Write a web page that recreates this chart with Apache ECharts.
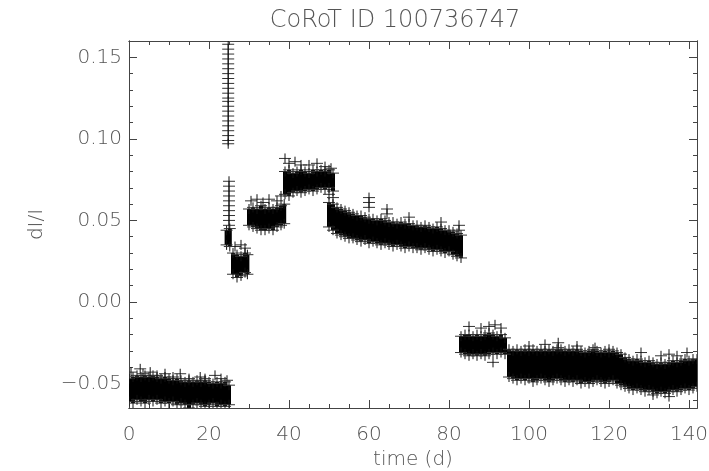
<!DOCTYPE html>
<html>
<head>
<meta charset="utf-8">
<title>CoRoT ID 100736747</title>
<script src="https://cdn.jsdelivr.net/npm/echarts@6.0.0/dist/echarts.min.js"></script>
<style>
  html, body { margin: 0; padding: 0; background: #fff; }
  #chart { width: 709px; height: 471px; }
</style>
</head>
<body>
<div id="chart"></div>
<script>
// light curve: one column per day, core band top/bottom
const bandT = [
  0, 1, 2, 3, 4, 5, 6, 7, 8, 9, 10, 11, 12, 13, 14, 15, 16, 17, 18, 19, 20, 21, 22, 23, 24, 25,
  24.4, 25.2,
  26, 27, 28, 29, 29.6,
  30, 31, 32, 33, 34, 35, 36, 37, 38, 38.8,
  39, 40, 41, 42, 43, 44, 45, 46, 47, 48, 49, 50, 51,
  50, 51, 52, 53, 54, 55, 56, 57, 58, 59, 60, 61, 62, 63, 64, 65, 66, 67, 68, 69, 70, 71, 72, 73, 74, 75, 76, 77, 78, 79, 80, 81, 82, 83,
  83, 84, 85, 86, 87, 88, 89, 90, 91, 92, 93, 94,
  95, 96, 97, 98, 99, 100, 101, 102, 103, 104, 105, 106, 107, 108, 109, 110, 111, 112, 113, 114, 115, 116, 117, 118,
  119, 120, 121, 122, 123, 124, 125, 126, 127, 128, 129, 130, 131, 132, 133, 134, 135, 136, 137, 138, 139, 140, 141, 142
]
const bandHi = [
  -0.047, -0.046, -0.045, -0.046, -0.045, -0.046, -0.045, -0.046, -0.047, -0.046, -0.047, -0.048, -0.047,
  -0.048, -0.049, -0.048, -0.049, -0.048, -0.049, -0.048, -0.049, -0.050, -0.049, -0.050, -0.049, -0.051,
  0.044, 0.045,
  0.030, 0.029, 0.028, 0.030, 0.029,
  0.057, 0.058, 0.057, 0.059, 0.057, 0.058, 0.057, 0.058, 0.059, 0.060,
  0.080, 0.081, 0.079, 0.080, 0.081, 0.080, 0.079, 0.081, 0.080, 0.081, 0.080, 0.081, 0.079,
  0.061, 0.060, 0.058, 0.057, 0.056, 0.055, 0.054, 0.053, 0.053, 0.052, 0.051, 0.051, 0.050, 0.051, 0.050, 0.049, 0.049,
  0.048, 0.049, 0.048, 0.048, 0.047, 0.047, 0.046, 0.047, 0.046, 0.045, 0.046, 0.045, 0.044, 0.044, 0.043, 0.042, 0.041,
  -0.021, -0.020, -0.020, -0.021, -0.020, -0.021, -0.020, -0.019, -0.020, -0.021, -0.020, -0.022,
  -0.029, -0.030, -0.029, -0.030, -0.029, -0.030, -0.029, -0.030, -0.029, -0.030, -0.029, -0.030, -0.029, -0.029,
  -0.030, -0.029, -0.030, -0.029, -0.030, -0.031, -0.030, -0.029, -0.030, -0.031, -0.030, -0.031, -0.030, -0.031,
  -0.032, -0.034, -0.035, -0.036, -0.035, -0.036, -0.037, -0.036, -0.037, -0.038, -0.037, -0.038, -0.037, -0.036,
  -0.037, -0.036, -0.035, -0.036, -0.035, -0.035
]
const bandLo = [
  -0.061, -0.062, -0.060, -0.061, -0.062, -0.060, -0.061, -0.060, -0.062, -0.061, -0.062, -0.061, -0.063,
  -0.062, -0.063, -0.065, -0.063, -0.062, -0.063, -0.064, -0.063, -0.062, -0.064, -0.063, -0.064, -0.063,
  0.035, 0.034,
  0.017, 0.015, 0.016, 0.018, 0.017,
  0.047, 0.046, 0.045, 0.044, 0.044, 0.045, 0.044, 0.046, 0.047, 0.048,
  0.066, 0.065, 0.067, 0.068, 0.067, 0.068, 0.069, 0.068, 0.069, 0.070, 0.069, 0.070, 0.068,
  0.046, 0.044, 0.042, 0.041, 0.040, 0.039, 0.039, 0.038, 0.037, 0.038, 0.036, 0.037, 0.036, 0.035, 0.036, 0.035, 0.034,
  0.035, 0.034, 0.033, 0.034, 0.033, 0.033, 0.032, 0.033, 0.032, 0.031, 0.032, 0.031, 0.030, 0.031, 0.029, 0.028, 0.027,
  -0.031, -0.032, -0.033, -0.032, -0.033, -0.032, -0.033, -0.032, -0.031, -0.032, -0.031, -0.032,
  -0.046, -0.047, -0.048, -0.047, -0.048, -0.047, -0.049, -0.048, -0.047, -0.048, -0.049, -0.048, -0.047, -0.048,
  -0.049, -0.048, -0.049, -0.048, -0.050, -0.049, -0.050, -0.049, -0.048, -0.049, -0.050, -0.049, -0.048, -0.050,
  -0.051, -0.052, -0.053, -0.054, -0.053, -0.054, -0.055, -0.054, -0.055, -0.056, -0.055, -0.056, -0.055, -0.054,
  -0.055, -0.054, -0.053, -0.054, -0.053, -0.052
]

// single points standing out of the band (the flare column near t=25 included)
const spikeT = [
  0.5, 2.8, 3.5, 5.3, 7, 9, 11, 12.8, 15, 17.8, 19, 21.5, 23, 24.5,
  24.8, 24.8, 24.8, 24.8, 24.8, 24.8, 24.8, 24.8, 24.8, 24.8, 24.8,
  24.8, 24.8, 24.8, 24.8, 24.8, 24.8, 24.8, 24.8, 24.8, 24.8, 24.8,
  25, 25, 25, 25, 25, 25, 25, 25, 25, 25,
  26.5, 28, 29,
  30.5, 32, 33.5, 35, 37, 38,
  39, 40, 41.5, 43, 45, 47, 49, 50.5,
  50, 51, 60, 60, 60, 64.5, 64.5, 70, 78, 82.5, 82.5,
  85, 88, 90, 91.5, 91, 93,
  100, 104, 107.3, 107.3, 112, 116.5, 120, 128, 133, 135, 137, 139.5, 135, 131
]
const spikeY = [
  -0.043, -0.041, -0.044, -0.043, -0.045, -0.044, -0.046, -0.044, -0.047, -0.046, -0.047, -0.045, -0.047, -0.048,
  0.158, 0.155, 0.152, 0.149, 0.146, 0.143, 0.140, 0.137, 0.134, 0.131, 0.128,
  0.125, 0.123, 0.120, 0.117, 0.114, 0.111, 0.108, 0.105, 0.102, 0.099, 0.097,
  0.074, 0.071, 0.068, 0.065, 0.062, 0.059, 0.056, 0.053, 0.050, 0.047,
  0.034, 0.035, 0.033,
  0.062, 0.063, 0.061, 0.063, 0.062, 0.065,
  0.088, 0.085, 0.086, 0.084, 0.084, 0.085, 0.083, 0.082,
  0.066, 0.064, 0.064, 0.061, 0.058, 0.057, 0.054, 0.052, 0.049, 0.047, 0.044,
  -0.015, -0.016, -0.015, -0.014, -0.037, -0.016,
  -0.027, -0.026, -0.025, -0.028, -0.027, -0.028, -0.029, -0.031, -0.033, -0.032, -0.033, -0.031, -0.058, -0.057
]

// axis ticks
const xMajor = [0, 20, 40, 60, 80, 100, 120, 140]
const xMinor = [5, 10, 15, 25, 30, 35, 45, 50, 55, 65, 70, 75, 85, 90, 95, 105, 110, 115, 125, 130, 135]
const yMajor = [-0.05, 0, 0.05, 0.1, 0.15]
const yMinor = [-0.06, -0.04, -0.03, -0.02, -0.01, 0.01, 0.02, 0.03, 0.04, 0.06, 0.07, 0.08, 0.09,
  0.11, 0.12, 0.13, 0.14]

const xRange = [0, 142]
const yRange = [-0.065, 0.16]

const axisColor = '#444'
const textColor = '#555'
const font = 'DejaVu Sans'

const chartDom = document.getElementById('chart')
const chart = echarts.init(chartDom)

const bandData = bandT.map((t, i) => [t, bandLo[i], bandHi[i]])
const crossData = bandT.map((t, i) => [t, bandHi[i]])
  .concat(bandT.map((t, i) => [t, bandLo[i]]))
  .concat(spikeT.map((t, i) => [t, spikeY[i]]))

const fmtY = (v) => v.toFixed(2).replace('-', '\u2212')

function makeX(pos, major, showLabel) {
  return {
    type: 'value',
    position: pos,
    min: xRange[0],
    max: xRange[1],
    axisLine: { show: true, onZero: false, lineStyle: { color: axisColor, width: 1 } },
    axisTick: {
      show: true, inside: true, length: major ? 8 : 4,
      customValues: major ? xMajor : xMinor,
      lineStyle: { color: axisColor }
    },
    axisLabel: {
      show: showLabel, customValues: xMajor, margin: 17,
      color: textColor, fontSize: 20, fontFamily: font, fontWeight: 300
    },
    splitLine: { show: false },
    name: showLabel ? 'time (d)' : '',
    nameLocation: 'middle',
    nameGap: 40,
    nameTextStyle: { color: textColor, fontSize: 20, fontFamily: font, fontWeight: 300 }
  }
}

function makeY(pos, major, showLabel) {
  return {
    type: 'value',
    position: pos,
    min: yRange[0],
    max: yRange[1],
    axisLine: { show: true, onZero: false, lineStyle: { color: axisColor, width: 1 } },
    axisTick: {
      show: true, inside: true, length: major ? 8 : 4,
      customValues: major ? yMajor : yMinor,
      lineStyle: { color: axisColor }
    },
    axisLabel: {
      show: showLabel, customValues: yMajor, margin: 7, formatter: fmtY,
      color: textColor, fontSize: 20, fontFamily: font, fontWeight: 300
    },
    splitLine: { show: false },
    name: showLabel ? 'dI/I' : '',
    nameLocation: 'middle',
    nameGap: 82,
    nameTextStyle: { color: textColor, fontSize: 20, fontFamily: font, fontWeight: 300 }
  }
}

const option = {
  backgroundColor: '#fff',
  animation: false,
  title: {
    text: 'CoRoT ID 100736747',
    left: 390,
    top: 4,
    textAlign: 'center',
    textStyle: { color: textColor, fontSize: 24, fontFamily: font, fontWeight: 300 }
  },
  grid: { left: 129, right: 12, top: 41, bottom: 63, containLabel: false, outerBoundsMode: 'none' },
  xAxis: [
    makeX('bottom', true, true),
    makeX('bottom', false, false),
    makeX('top', true, false),
    makeX('top', false, false)
  ],
  yAxis: [
    makeY('left', true, true),
    makeY('left', false, false),
    makeY('right', true, false),
    makeY('right', false, false)
  ],
  series: [
    {
      // solid core of the densely packed '+' markers
      type: 'custom',
      clip: true,
      data: bandData,
      renderItem: (params, api) => {
        const t = api.value(0)
        const p1 = api.coord([t - 0.5, api.value(2)])
        const p2 = api.coord([t + 0.5, api.value(1)])
        const rect = echarts.graphic.clipRectByRect(
          { x: p1[0], y: p1[1], width: p2[0] - p1[0], height: p2[1] - p1[1] },
          params.coordSys
        )
        if (!rect) return null
        return { type: 'rect', shape: rect, style: { fill: '#000' } }
      }
    },
    {
      // '+' symbols (IDL psym=1)
      type: 'custom',
      clip: true,
      data: crossData,
      renderItem: (params, api) => {
        const p = api.coord([api.value(0), api.value(1)])
        const w = 6
        const h = 5
        return {
          type: 'group',
          children: [
            { type: 'line', shape: { x1: p[0] - w, y1: p[1], x2: p[0] + w, y2: p[1] }, style: { stroke: '#333', lineWidth: 1 } },
            { type: 'line', shape: { x1: p[0], y1: p[1] - h, x2: p[0], y2: p[1] + h }, style: { stroke: '#111', lineWidth: 1 } }
          ]
        }
      }
    }
  ]
}

chart.setOption(option)
window.addEventListener('resize', () => chart.resize())
</script>
</body>
</html>
